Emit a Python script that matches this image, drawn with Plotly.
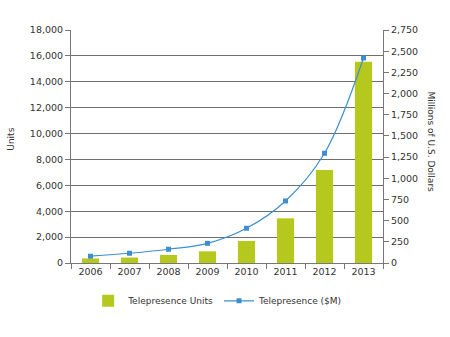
import plotly.graph_objects as go

years = ["2006", "2007", "2008", "2009", "2010", "2011", "2012", "2013"]
units = [350, 420, 620, 900, 1700, 3450, 7180, 15550]
usd_m = [80, 115, 162, 232, 410, 732, 1295, 2420]

bar_color = "#b5c81e"
line_color = "#3d8fd1"
font = "DejaVu Sans"

fig = go.Figure()
fig.add_trace(go.Bar(x=years, y=units, name="Telepresence Units",
                     marker=dict(color=bar_color, line=dict(width=0)),
                     width=0.44, yaxis="y"))
fig.add_trace(go.Scatter(x=years, y=usd_m, name="Telepresence ($M)",
                         mode="lines+markers",
                         line=dict(color=line_color, width=1.2, shape="spline"),
                         marker=dict(symbol="square", size=5, color=line_color),
                         yaxis="y2"))

fig.update_layout(
    width=450, height=337,
    margin=dict(l=71, r=67, t=30, b=74, autoexpand=False),
    paper_bgcolor="white", plot_bgcolor="white",
    font=dict(family=font, size=9, color="#333"),
    showlegend=True,
    legend=dict(orientation="h", x=0.47, xanchor="center", y=-0.1, yanchor="top",
                font=dict(size=9, color="#333"), itemwidth=30, tracegroupgap=0),
    xaxis=dict(type="category", showline=True, linecolor="#777", linewidth=1,
               ticks="outside", ticklen=5, tickcolor="#777", tickson="boundaries",
               showgrid=False, tickfont=dict(size=9.5, color="#333")),
    yaxis=dict(range=[0, 18000], dtick=2000, tickformat=",", showline=True,
               linecolor="#777", linewidth=1, ticks="outside", ticklen=5,
               tickcolor="#777", showgrid=True, gridcolor="#6e6e6e", gridwidth=1.3,
               zeroline=False, tickfont=dict(size=9.5, color="#333")),
    yaxis2=dict(range=[0, 2750], dtick=250, tickformat=",", overlaying="y",
                side="right", showline=True, linecolor="#777", linewidth=1,
                ticks="outside", ticklen=5, tickcolor="#777", showgrid=False,
                zeroline=False, tickfont=dict(size=9.5, color="#333")),
    annotations=[
        dict(text="Units", xref="paper", yref="paper", x=-0.195, y=0.53,
             textangle=-90, showarrow=False, font=dict(size=9, color="#333"),
             xanchor="center", yanchor="middle"),
        dict(text="Millions of U.S. Dollars", xref="paper", yref="paper", x=1.155,
             y=0.52, textangle=90, showarrow=False,
             font=dict(size=9, color="#333"), xanchor="center", yanchor="middle"),
    ],
)

fig.write_html("out.html")
